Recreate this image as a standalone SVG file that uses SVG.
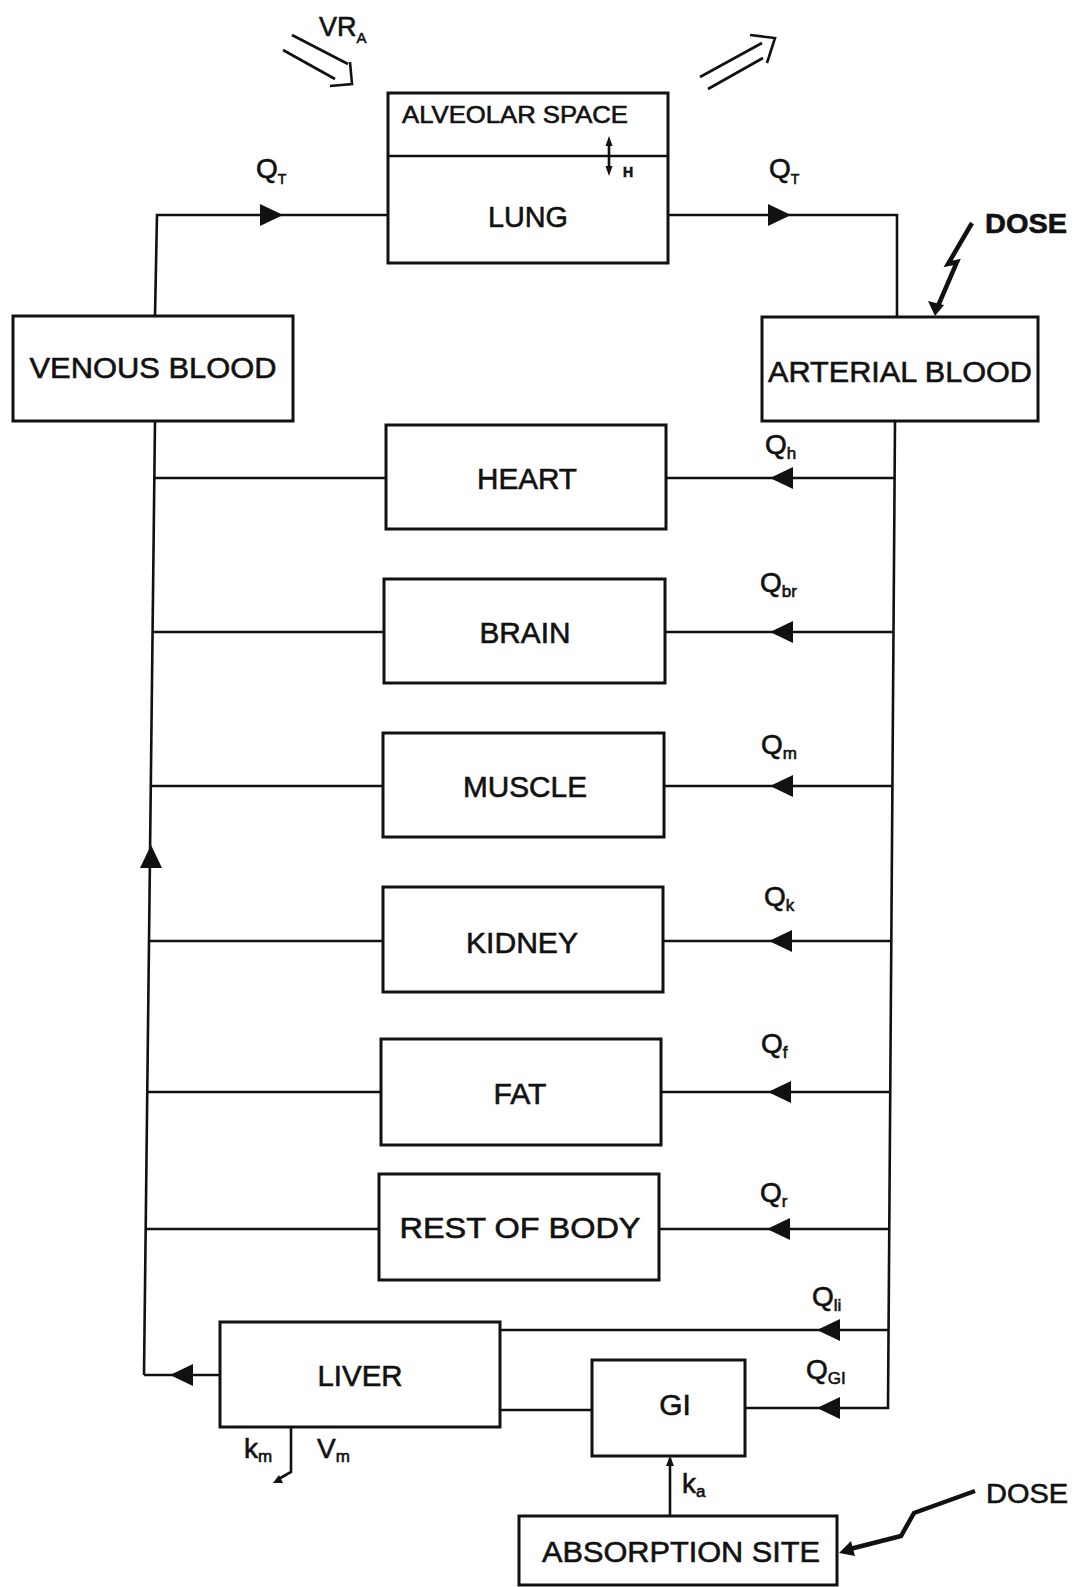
<svg xmlns="http://www.w3.org/2000/svg" width="1072" height="1587" viewBox="0 0 1072 1587">
<style>
.box{fill:#fff;stroke:#111;stroke-width:3}
.ln{fill:none;stroke:#111;stroke-width:2.6;stroke-linejoin:miter}
.thick{fill:none;stroke:#111;stroke-width:4.5;stroke-linejoin:miter}
.lbl{font-family:"Liberation Sans",Arial,sans-serif;font-size:30px;fill:#111;stroke:#111;stroke-width:0.6;text-anchor:middle}
.q{font-family:"Liberation Sans",Arial,sans-serif;font-size:28px;fill:#111;stroke:#111;stroke-width:0.6}
.s{font-size:17px}
.ar{fill:#111}
</style>
<defs>
<path id="al" d="M0,0 L23,-11 L23,11 Z"/>
</defs>

<g id="connectors">
  <!-- venous to lung -->
  <polyline class="ln" points="155,316 157,215 388,215"/>
  <use href="#al" class="ar" transform="translate(283,215) rotate(180)"/>
  <!-- lung to arterial -->
  <polyline class="ln" points="668,215 897,215 897,317"/>
  <use href="#al" class="ar" transform="translate(791,215) rotate(180)"/>
  <!-- left return line -->
  <line class="ln" x1="155" y1="421" x2="144" y2="1375"/>
  <use href="#al" class="ar" transform="translate(151,845) rotate(90)"/>
  <polyline class="ln" points="144,1375 220,1375"/>
  <use href="#al" class="ar" transform="translate(170,1375)"/>
  <!-- right supply line -->
  <polyline class="ln" points="895,421 888,1408 745,1408"/>
  <!-- branches -->
  <line class="ln" x1="154" y1="478" x2="386" y2="478"/>
  <line class="ln" x1="666" y1="478" x2="895" y2="478"/>
  <use href="#al" class="ar" transform="translate(770,478)"/>
  <line class="ln" x1="153" y1="632" x2="384" y2="632"/>
  <line class="ln" x1="665" y1="632" x2="894" y2="632"/>
  <use href="#al" class="ar" transform="translate(770,632)"/>
  <line class="ln" x1="151" y1="786" x2="383" y2="786"/>
  <line class="ln" x1="664" y1="786" x2="892" y2="786"/>
  <use href="#al" class="ar" transform="translate(770,786)"/>
  <line class="ln" x1="149" y1="941" x2="383" y2="941"/>
  <line class="ln" x1="663" y1="941" x2="891" y2="941"/>
  <use href="#al" class="ar" transform="translate(769,941)"/>
  <line class="ln" x1="147" y1="1092" x2="381" y2="1092"/>
  <line class="ln" x1="661" y1="1092" x2="890" y2="1092"/>
  <use href="#al" class="ar" transform="translate(768,1092)"/>
  <line class="ln" x1="146" y1="1229" x2="379" y2="1229"/>
  <line class="ln" x1="659" y1="1229" x2="889" y2="1229"/>
  <use href="#al" class="ar" transform="translate(767,1229)"/>
  <line class="ln" x1="500" y1="1330" x2="889" y2="1330"/>
  <use href="#al" class="ar" transform="translate(817,1330)"/>
  <use href="#al" class="ar" transform="translate(817,1408)"/>
  <line class="ln" x1="500" y1="1410" x2="592" y2="1410"/>
  <!-- absorption to GI -->
  <line class="ln" x1="670" y1="1516" x2="670" y2="1458"/>
  <path class="ar" d="M670,1456 L666,1466 L674,1466 Z"/>
  <!-- liver metabolism -->
  <polyline class="ln" points="291,1427 291,1472 277,1480"/>
  <path class="ar" d="M273,1483 L279,1475 L283,1483 Z"/>
  <!-- ventilation arrows -->
  <line class="ln" x1="292" y1="35" x2="348" y2="64"/>
  <line class="ln" x1="283" y1="50" x2="335" y2="79"/>
  <polyline class="ln" points="350,62 352,84 330,86"/>
  <line class="ln" x1="700" y1="77" x2="762" y2="43"/>
  <line class="ln" x1="708" y1="89" x2="763" y2="58"/>
  <polyline class="ln" points="750,35 775,38 767,63"/>
  <!-- dose arrows -->
  <polyline class="thick" points="972,223 948,264 957,262 938,306"/>
  <path class="ar" d="M935,316 L928,301 L944,305 Z"/>
  <polyline class="thick" points="975,1491 914,1513 901,1536 850,1549"/>
  <path class="ar" d="M839,1553 L851,1541 L855,1556 Z"/>
</g>

<g id="lung">
  <rect class="box" x="388" y="93" width="280" height="170"/>
  <line class="ln" x1="388" y1="156" x2="668" y2="156"/>
  <line class="ln" x1="609" y1="141" x2="609" y2="171"/>
  <path class="ar" d="M609,136 L605.5,146 L612.5,146 Z M609,176 L605.5,166 L612.5,166 Z"/>
  <text class="lbl" x="515" y="123" style="font-size:24px" textLength="226" lengthAdjust="spacingAndGlyphs">ALVEOLAR SPACE</text>
  <text class="lbl" x="628" y="177" style="font-size:14px;font-weight:bold">H</text>
  <text class="lbl" x="528" y="227" textLength="80" lengthAdjust="spacingAndGlyphs">LUNG</text>
</g>
<g id="venous">
  <rect class="box" x="13" y="316" width="280" height="105"/>
  <text class="lbl" x="153" y="378" textLength="247" lengthAdjust="spacingAndGlyphs">VENOUS BLOOD</text>
</g>
<g id="arterial">
  <rect class="box" x="762" y="317" width="276" height="104"/>
  <text class="lbl" x="900" y="382" textLength="264" lengthAdjust="spacingAndGlyphs">ARTERIAL BLOOD</text>
</g>
<g id="heart">
  <rect class="box" x="386" y="425" width="280" height="104"/>
  <text class="lbl" x="527" y="489" textLength="100" lengthAdjust="spacingAndGlyphs">HEART</text>
</g>
<g id="brain">
  <rect class="box" x="384" y="579" width="281" height="104"/>
  <text class="lbl" x="525" y="643" textLength="91" lengthAdjust="spacingAndGlyphs">BRAIN</text>
</g>
<g id="muscle">
  <rect class="box" x="383" y="733" width="281" height="104"/>
  <text class="lbl" x="525" y="797" textLength="124" lengthAdjust="spacingAndGlyphs">MUSCLE</text>
</g>
<g id="kidney">
  <rect class="box" x="383" y="887" width="280" height="105"/>
  <text class="lbl" x="522" y="953" textLength="112" lengthAdjust="spacingAndGlyphs">KIDNEY</text>
</g>
<g id="fat">
  <rect class="box" x="381" y="1039" width="280" height="106"/>
  <text class="lbl" x="520" y="1104" textLength="53" lengthAdjust="spacingAndGlyphs">FAT</text>
</g>
<g id="rest">
  <rect class="box" x="379" y="1174" width="280" height="106"/>
  <text class="lbl" x="520" y="1238" textLength="241" lengthAdjust="spacingAndGlyphs">REST OF BODY</text>
</g>
<g id="liver">
  <rect class="box" x="220" y="1322" width="280" height="105"/>
  <text class="lbl" x="360" y="1386" textLength="85" lengthAdjust="spacingAndGlyphs">LIVER</text>
</g>
<g id="gi">
  <rect class="box" x="592" y="1360" width="153" height="96"/>
  <text class="lbl" x="675" y="1415">GI</text>
</g>
<g id="absorption">
  <rect class="box" x="519" y="1516" width="318" height="69"/>
  <text class="lbl" x="681" y="1562" textLength="278" lengthAdjust="spacingAndGlyphs">ABSORPTION SITE</text>
</g>

<g id="labels">
  <text class="q" x="319" y="36" style="font-size:27px">VR<tspan dy="7" style="font-size:15px">A</tspan></text>
  <text class="q" x="256" y="178">Q<tspan dy="6" style="font-size:14px">T</tspan></text>
  <text class="q" x="769" y="178">Q<tspan dy="6" style="font-size:14px">T</tspan></text>
  <text class="q" x="985" y="233" style="font-weight:bold" textLength="82" lengthAdjust="spacingAndGlyphs">DOSE</text>
  <text class="q" x="986" y="1503" textLength="82" lengthAdjust="spacingAndGlyphs">DOSE</text>
  <text class="q" x="765" y="454">Q<tspan dy="5" class="s">h</tspan></text>
  <text class="q" x="760" y="592">Q<tspan dy="5" class="s">br</tspan></text>
  <text class="q" x="761" y="754">Q<tspan dy="5" class="s">m</tspan></text>
  <text class="q" x="764" y="906">Q<tspan dy="5" class="s">k</tspan></text>
  <text class="q" x="761" y="1053">Q<tspan dy="5" class="s">f</tspan></text>
  <text class="q" x="760" y="1202">Q<tspan dy="5" class="s">r</tspan></text>
  <text class="q" x="812" y="1306">Q<tspan dy="5" class="s">li</tspan></text>
  <text class="q" x="806" y="1379">Q<tspan dy="5" class="s">GI</tspan></text>
  <text class="q" x="244" y="1458">k<tspan dy="4" class="s">m</tspan></text>
  <text class="q" x="317" y="1458">V<tspan dy="4" class="s">m</tspan></text>
  <text class="q" x="682" y="1493">k<tspan dy="4" class="s">a</tspan></text>
</g>
</svg>
